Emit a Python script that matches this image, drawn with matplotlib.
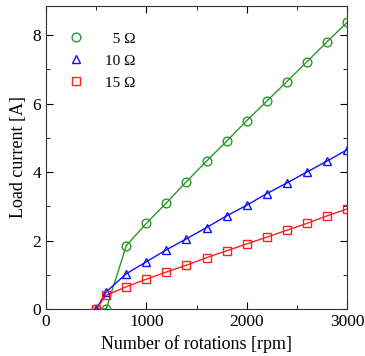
import matplotlib
matplotlib.use("Agg")
import matplotlib.pyplot as plt
from matplotlib.ticker import MultipleLocator

plt.rcParams['font.family'] = ['Liberation Serif', 'DejaVu Serif']
plt.rcParams['mathtext.fontset'] = 'stix'

rpm = [500, 600, 800, 1000, 1200, 1400, 1600, 1800, 2000, 2200, 2400, 2600, 2800, 3000]
i_5 = [0.0, 0.0, 1.85, 2.5, 3.1, 3.72, 4.32, 4.9, 5.5, 6.07, 6.64, 7.22, 7.8, 8.37]
i_10 = [0.0, 0.5, 1.03, 1.38, 1.73, 2.05, 2.38, 2.72, 3.03, 3.37, 3.68, 4.0, 4.32, 4.65]
i_15 = [0.0, 0.4, 0.65, 0.87, 1.08, 1.28, 1.5, 1.7, 1.9, 2.1, 2.3, 2.5, 2.72, 2.92]
labels = ['  5 Ω', '10 Ω', '15 Ω']

fig = plt.figure(figsize=(3.65, 3.56), dpi=100)
ax = fig.add_axes([46/365, 47/356, 301/365, 303/356])

series = [(i_5, '#2a982a', 'o'), (i_10, '#1010ff', '^'), (i_15, '#ff2020', 's')]
handles = []
for y, c, m in series:
    ax.plot(rpm, y, color=c, lw=1.0, zorder=2)
    h, = ax.plot(rpm, y, ls='none', marker=m, ms=6.3, mfc='none', mec=c, mew=1.0, zorder=3)
    handles.append(h)

ax.set_xlim(0, 3000)
ax.set_ylim(0, 8.85)
ax.xaxis.set_major_locator(MultipleLocator(1000))
ax.xaxis.set_minor_locator(MultipleLocator(500))
ax.yaxis.set_major_locator(MultipleLocator(2))
ax.yaxis.set_minor_locator(MultipleLocator(1))
for s in ax.spines.values():
    s.set_color('#333333')
ax.tick_params(which='both', direction='in', top=True, right=True, labelsize=12.5)
ax.tick_params(which='major', length=5)
ax.tick_params(which='minor', length=3)
ax.set_xlabel('Number of rotations [rpm]', fontsize=13)
ax.set_ylabel('Load current [A]', fontsize=13)

ax.legend(handles, labels, loc='upper left', frameon=False, fontsize=11,
          bbox_to_anchor=(0.03, 0.96), handlelength=1.0, handletextpad=1.4,
          labelspacing=0.55)

fig.savefig('out.png', dpi=100)
